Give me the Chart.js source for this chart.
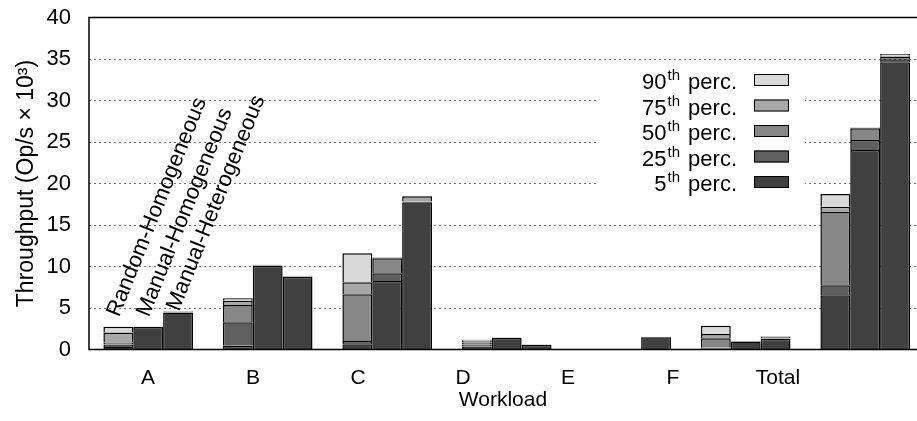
<!DOCTYPE html>
<html>
<head>
<meta charset="utf-8">
<script src="https://cdn.jsdelivr.net/npm/chart.js@4.4.1/dist/chart.umd.min.js"></script>
<style>
  html, body { margin: 0; padding: 0; background: #fff; }
  canvas { display: block; }
</style>
</head>
<body>
<canvas id="chart" width="917" height="421"></canvas>
<script>
'use strict';

// ***** DATA *****
const workloads = ['A', 'B', 'C', 'D', 'E', 'F', 'Total'];
const configs = ['Random-Homogeneous', 'Manual-Homogeneous', 'Manual-Heterogeneous'];
const percentiles = ['5', '25', '50', '75', '90'];
const yTicks = [0, 5, 10, 15, 20, 25, 30, 35, 40];

// throughput in 10^3 Op/s, one value per workload
const randHomP5  = [0.30, 0.46, 0.62, 0.35, 0, 0.10, 6.53];
const randHomP25 = [0.60, 3.27, 1.02, 0.60, 0, 0.22, 7.73];
const randHomP50 = [0.85, 5.36, 6.65, 0.85, 0, 1.35, 16.57];
const randHomP75 = [2.05, 5.88, 8.09, 1.05, 0, 1.87, 17.20];
const randHomP90 = [2.75, 6.17, 11.59, 1.18, 0, 2.87, 18.73];

const manHomP5  = [2.70, 10.05, 8.25, 1.40, 0, 0.95, 24.04];
const manHomP25 = [2.72, 10.10, 9.18, 1.43, 0, 1.00, 25.24];
const manHomP50 = [2.75, 10.15, 11.00, 1.45, 0, 1.03, 26.65];
const manHomP75 = [2.78, 10.18, 11.05, 1.47, 0, 1.05, 26.70];
const manHomP90 = [2.80, 10.20, 11.10, 1.48, 0, 1.06, 26.75];

const manHetP5  = [4.45, 8.75, 17.75, 0.55, 1.48, 1.30, 34.60];
const manHetP25 = [4.50, 8.80, 17.80, 0.58, 1.50, 1.35, 34.96];
const manHetP50 = [4.55, 8.83, 17.86, 0.60, 1.52, 1.55, 35.28];
const manHetP75 = [4.60, 8.86, 18.45, 0.62, 1.53, 1.60, 35.40];
const manHetP90 = [4.65, 8.88, 18.50, 0.63, 1.54, 1.63, 35.60];

// ***** STYLES *****
const percColors = ['#404040', '#5f5f5f', '#878787', '#a8a8a8', '#d9d9d9'];
const FONT = '"Liberation Sans", Arial, Helvetica, sans-serif';

Chart.defaults.font.family = FONT;
Chart.defaults.color = '#000';

// ***** DATASETS *****
const series = [
  [randHomP5, randHomP25, randHomP50, randHomP75, randHomP90],
  [manHomP5, manHomP25, manHomP50, manHomP75, manHomP90],
  [manHetP5, manHetP25, manHetP50, manHetP75, manHetP90]
];

const datasets = [];
series.forEach(function (percs, s) {
  percs.forEach(function (vals, p) {
    datasets.push({
      label: percentiles[p] + 'th perc.',
      stack: configs[s],
      // stacked segments: each one goes from the previous percentile up to this one
      data: vals.map((v, i) => ({ x: i, y: p === 0 ? v : v - percs[p - 1][i] })),
      backgroundColor: percColors[p],
      borderColor: '#000',
      borderWidth: 1.5,
      categoryPercentage: 0.75,
      barPercentage: 1
    });
  });
});

// **** OVERLAY: frame, group labels, legend ****
const overlay = {
  id: 'overlay',
  afterDatasetsDraw(chart) {
    const ctx = chart.ctx;
    const area = chart.chartArea;
    const y = chart.scales.y;

    // frame (left, top, bottom - right side runs off the canvas)
    ctx.save();
    ctx.strokeStyle = '#000';
    ctx.lineWidth = 1.5;
    ctx.beginPath();
    ctx.moveTo(area.right, area.top);
    ctx.lineTo(area.left, area.top);
    ctx.lineTo(area.left, area.bottom);
    ctx.lineTo(area.right, area.bottom);
    ctx.stroke();
    ctx.restore();

    // rotated config names above workload A
    const labelLevels = [4.1, 4.1, 4.8];
    ctx.save();
    ctx.font = '22px ' + FONT;
    ctx.fillStyle = '#000';
    ctx.textAlign = 'left';
    ctx.textBaseline = 'middle';
    configs.forEach(function (name, s) {
      const bar = chart.getDatasetMeta(s * percentiles.length).data[0];
      ctx.save();
      ctx.translate(bar.x - 5, y.getPixelForValue(labelLevels[s]));
      ctx.rotate(-68 * Math.PI / 180);
      ctx.fillText(name, 0, 0);
      ctx.restore();
    });
    ctx.restore();
  },
  afterDraw(chart) {
    const ctx = chart.ctx;
    ctx.save();
    // opaque key background hides the grid behind it
    ctx.fillStyle = '#fff';
    ctx.fillRect(598, 67, 207, 128);

    const textRight = 737;
    const mainFont = '22px ' + FONT;
    const supFont = '15px ' + FONT;
    for (let k = 0; k < percentiles.length; k++) {
      const p = percentiles.length - 1 - k;
      const cy = 80 + k * 25.5;
      ctx.fillStyle = percColors[p];
      ctx.fillRect(754, cy - 6, 35, 12);
      ctx.strokeStyle = '#000';
      ctx.lineWidth = 1;
      ctx.strokeRect(754.5, cy - 5.5, 34, 11);

      ctx.fillStyle = '#000';
      ctx.textBaseline = 'alphabetic';
      ctx.textAlign = 'left';
      ctx.font = mainFont;
      const numW = ctx.measureText(percentiles[p]).width;
      const tailW = ctx.measureText(' perc.').width;
      ctx.font = supFont;
      const supW = ctx.measureText('th').width + 3;
      let x = textRight - (numW + supW + tailW);
      ctx.font = mainFont;
      ctx.fillText(percentiles[p], x, cy + 9);
      x += numW;
      ctx.font = supFont;
      ctx.fillText('th', x + 1, cy);
      x += supW;
      ctx.font = mainFont;
      ctx.fillText(' perc.', x, cy + 9);
    }
    ctx.restore();
  }
};

// **** CHART ****
const barSpacing = 119.5;
const labelSpacing = 105;
const plotLeft = 89;
const plotWidth = 917 - plotLeft;
const firstBarCenter = 148.2;
const firstLabel = 148;

new Chart(document.getElementById('chart'), {
  type: 'bar',
  data: { datasets: datasets },
  options: {
    responsive: false,
    animation: false,
    devicePixelRatio: 1,
    layout: { padding: { top: 17.5, left: 0, right: 0, bottom: 0 } },
    plugins: {
      legend: { display: false },
      tooltip: { enabled: false }
    },
    scales: {
      x: {
        type: 'linear',
        stacked: true,
        display: false,
        offset: false,
        grid: { offset: false },
        min: -(firstBarCenter - plotLeft) / barSpacing,
        max: -(firstBarCenter - plotLeft) / barSpacing + plotWidth / barSpacing,
        afterBuildTicks: s => { s.ticks = workloads.map((w, i) => ({ value: i })); }
      },
      x2: {
        type: 'linear',
        position: 'bottom',
        offset: false,
        min: -(firstLabel - plotLeft) / labelSpacing,
        max: -(firstLabel - plotLeft) / labelSpacing + plotWidth / labelSpacing,
        afterBuildTicks: s => { s.ticks = workloads.map((w, i) => ({ value: i })); },
        ticks: {
          autoSkip: false,
          maxRotation: 0,
          padding: 16,
          font: { size: 21 },
          callback: v => workloads[v]
        },
        grid: { display: false, drawTicks: false, offset: false },
        border: { display: false },
        title: { display: true, text: 'Workload', font: { size: 21 }, padding: { top: 0, bottom: 8 } },
        afterFit: s => { s.height = 71.5; s.paddingLeft = 0; s.paddingRight = 0; }
      },
      y: {
        stacked: true,
        min: 0,
        max: 40,
        afterBuildTicks: s => { s.ticks = yTicks.map(v => ({ value: v })); },
        ticks: { padding: 18, font: { size: 22 } },
        grid: {
          drawTicks: false,
          lineWidth: 1,
          color: c => (c.tick && (c.tick.value === 0 || c.tick.value === 40)) ? 'rgba(0,0,0,0)' : '#707070'
        },
        border: { display: false, dash: [2, 3] },
        title: { display: true, text: 'Throughput (Op/s × 10³)', font: { size: 23 }, padding: { top: 13, bottom: 0 } },
        afterFit: s => { s.width = 89; s.paddingTop = 0; s.paddingBottom = 0; }
      }
    }
  },
  plugins: [overlay]
});
</script>
</body>
</html>
